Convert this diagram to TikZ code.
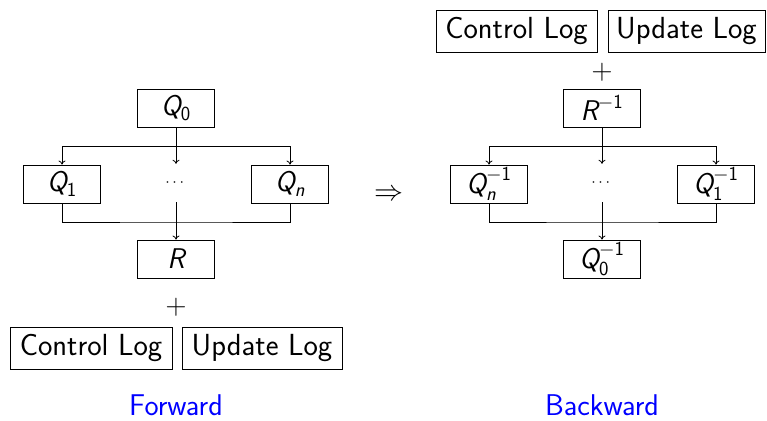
\RequirePackage{fix-cm}
\documentclass[tikz,border=0pt]{standalone}
\usepackage{amsmath}
\usetikzlibrary{arrows.meta}
\renewcommand{\familydefault}{\sfdefault}
\newcommand{\mQ}{\textsf{\itshape Q}}
\newcommand{\mR}{\textsf{\itshape R}}
\newcommand{\sn}[1]{\textsf{#1}}
\begin{document}
\begin{tikzpicture}[x=1pt,y=-1pt,
  qbox/.style={draw,line width=0.9pt,minimum width=77pt,minimum height=38pt,inner sep=0pt,font=\fontsize{28.5}{32}\selectfont\sffamily},
  logbox/.style={draw,line width=0.9pt,minimum height=42pt,inner sep=0pt,font=\fontsize{30.5}{34}\selectfont\sffamily},
  dotsnode/.style={minimum height=38pt,minimum width=20pt,inner sep=0pt,font=\fontsize{16}{18}\selectfont},
  plusnode/.style={inner sep=0pt,font=\fontsize{29}{32}\selectfont},
  captext/.style={text=blue,inner sep=0pt,anchor=base,font=\fontsize{30}{34}\selectfont\sffamily},
  conn/.style={line width=0.8pt},
  arr/.style={line width=0.8pt,-{To[length=4pt,width=7pt]}}]
\useasboundingbox (0,0) rectangle (767,420);
% ---------- Forward ----------
\node[qbox] (Q0) at (176,108) {$\mQ_{\sn{0}}$};
\node[qbox] (Q1) at (62,184) {$\mQ_{\sn{1}}$};
\node[qbox] (Qn) at (290,184) {$\mQ_{\textsf{\itshape n}}$};
\node[dotsnode] (d1) at (176,183) {$\cdots$};
\node[qbox] (R) at (176,259) {$\mR$};
\node[plusnode] (p1) at (176,307) {$+$};
\node[logbox,minimum width=162pt] (CL1) at (91,348) {Control Log};
\node[logbox,minimum width=160pt] (UL1) at (262,348) {Update Log};
\node[captext] (fw) at (176,415) {Forward};
\coordinate (t1) at (176,146);
\coordinate (b1) at (176,222);
\draw[conn] (Q1.north |- t1) -- (Qn.north |- t1);
\draw[conn] (Q0.south) -- (t1);
\draw[arr] (Q1.north |- t1) -- (Q1.north);
\draw[arr] (Qn.north |- t1) -- (Qn.north);
\draw[arr] (t1) -- (d1.north);
\draw[conn] (Q1.south) |- (b1) -| (Qn.south);
\draw[arr] (d1.south) -- (R.north);
% ---------- implies ----------
\node[plusnode] (imp) at (389,195) {$\Rightarrow$};
% ---------- Backward ----------
\node[logbox,minimum width=161pt] (CL2) at (516.5,31) {Control Log};
\node[logbox,minimum width=157pt] (UL2) at (686.5,31) {Update Log};
\node[plusnode] (p2) at (602,72) {$+$};
\node[qbox] (Rinv) at (602,108) {$\mR^{-\sn{1}}$};
\node[qbox] (Qninv) at (489,184) {$\mQ_{\textsf{\itshape n}}^{-\sn{1}}$};
\node[qbox] (Q1inv) at (716,184) {$\mQ_{\sn{1}}^{-\sn{1}}$};
\node[dotsnode] (d2) at (602,183) {$\cdots$};
\node[qbox] (Q0inv) at (602,259) {$\mQ_{\sn{0}}^{-\sn{1}}$};
\node[captext] (bw) at (602,415) {Backward};
\coordinate (t2) at (602,146);
\coordinate (b2) at (602,222);
\draw[conn] (Qninv.north |- t2) -- (Q1inv.north |- t2);
\draw[conn] (Rinv.south) -- (t2);
\draw[arr] (Qninv.north |- t2) -- (Qninv.north);
\draw[arr] (Q1inv.north |- t2) -- (Q1inv.north);
\draw[arr] (t2) -- (d2.north);
\draw[conn] (Qninv.south) |- (b2) -| (Q1inv.south);
\draw[arr] (d2.south) -- (Q0inv.north);
\end{tikzpicture}
\end{document}
